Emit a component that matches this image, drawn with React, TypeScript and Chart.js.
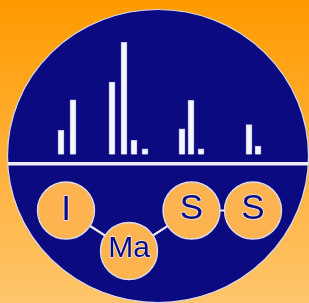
import React, { useEffect, useRef } from "react";
import { Chart, registerables } from "chart.js";

Chart.register(...registerables);

// Spectrum peaks (position along the axis, relative intensity)
const peakPositions = [61, 73, 112, 124, 134, 145, 182, 191, 201, 249, 258];
const peakIntensities = [21.6, 48.8, 64.5, 100, 12.7, 5, 22.8, 48.2, 5, 26.6, 7.4];

// Logo nodes "I – Ma – S – S"
const nodeLabels = ["I", "Ma", "S", "S"];
const nodeX = [66, 129, 191.5, 253];
const nodeY = [210.5, 251, 210.5, 210.5];
const nodeFontSizes = [35, 30, 35, 35];
const labelShift = [0, -2, -1.5, -1.5];

const NAVY = "#0b0a80";

const logoBackground = {
  id: "logoBackground",
  beforeDraw(chart: any) {
    const { ctx, width, height } = chart;
    ctx.save();
    const g = ctx.createLinearGradient(0, 0, 0, height);
    g.addColorStop(0, "#ff9a00");
    g.addColorStop(1, "#ffc56c");
    ctx.fillStyle = g;
    ctx.fillRect(0, 0, width, height);
    // big disc
    ctx.beginPath();
    ctx.ellipse(158, 156, 150.5, 146.5, 0, 0, Math.PI * 2);
    ctx.fillStyle = NAVY;
    ctx.fill();
    ctx.lineWidth = 1.2;
    ctx.strokeStyle = "#d8d8ec";
    ctx.stroke();
    // horizontal rule
    ctx.save();
    ctx.clip();
    ctx.fillStyle = "#eeeefa";
    ctx.fillRect(0, 162, width, 3.5);
    ctx.restore();
    ctx.restore();
  },
};

const nodeText = {
  id: "nodeText",
  afterDatasetsDraw(chart: any) {
    const { ctx } = chart;
    const meta = chart.getDatasetMeta(1);
    ctx.save();
    ctx.textAlign = "center";
    ctx.textBaseline = "middle";
    meta.data.forEach((pt: any, i: number) => {
      ctx.font = `${nodeFontSizes[i]}px "Liberation Sans", Arial, sans-serif`;
      const y = pt.y + labelShift[i];
      ctx.lineWidth = 1.6;
      ctx.strokeStyle = "rgba(235,235,250,0.9)";
      ctx.strokeText(nodeLabels[i], pt.x, y);
      ctx.fillStyle = NAVY;
      ctx.fillText(nodeLabels[i], pt.x, y);
    });
    ctx.restore();
  },
};

export default function App() {
  const ref = useRef<HTMLCanvasElement>(null);
  useEffect(() => {
    if (!ref.current) return;
    const chart = new Chart(ref.current, {
      type: "bar",
      data: {
        datasets: [
          {
            type: "bar",
            data: peakPositions.map((x, i) => ({ x, y: peakIntensities[i] })),
            backgroundColor: "#f6f6fd",
            borderColor: "#c4c4e4",
            borderWidth: 1,
            barThickness: 6,
            xAxisID: "x",
            yAxisID: "y",
          } as any,
          {
            type: "line",
            data: nodeX.map((x, i) => ({ x, y: nodeY[i] })),
            borderColor: "#eeeefa",
            borderWidth: 2.2,
            pointRadius: 28.5,
            pointBackgroundColor: "#fdb450",
            pointBorderColor: "#dcdcee",
            pointBorderWidth: 1.4,
            clip: false,
            xAxisID: "x",
            yAxisID: "y2",
          } as any,
        ],
      },
      options: {
        animation: false,
        responsive: false,
        events: [],
        layout: { padding: 0, autoPadding: false },
        plugins: { legend: { display: false }, tooltip: { enabled: false } },
        scales: {
          x: { type: "linear", min: 0, max: 309, display: false, offset: false },
          y: { type: "linear", min: -132.35, max: 137.7, display: false, beginAtZero: false },
          y2: { type: "linear", min: 0, max: 303, reverse: true, display: false },
        },
      },
      plugins: [logoBackground, nodeText],
    });
    return () => chart.destroy();
  }, []);
  return (
    <div style={{ position: "fixed", left: 0, top: 0, width: 309, height: 303 }}>
      <canvas ref={ref} width={309} height={303} style={{ display: "block" }} />
    </div>
  );
}
